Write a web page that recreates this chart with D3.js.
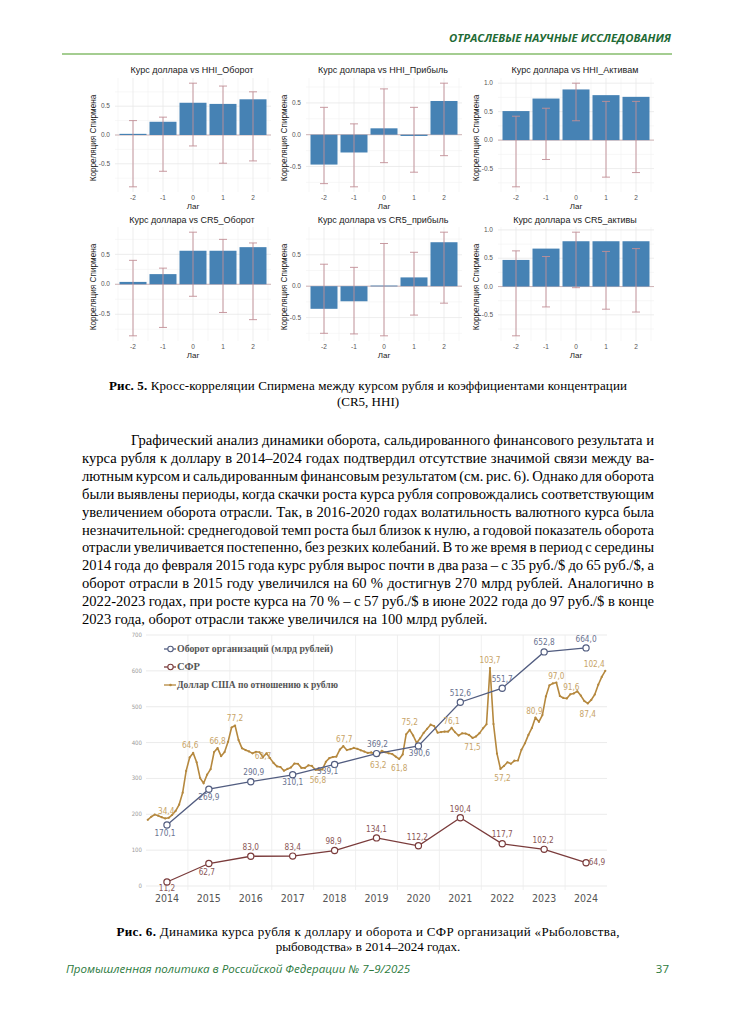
<!DOCTYPE html>
<html lang="ru"><head><meta charset="utf-8">
<script src="https://cdn.jsdelivr.net/npm/d3@7"></script>
<style>
html,body{margin:0;padding:0;background:#fff;}
svg{display:block;}
</style></head>
<body>
<svg id="page" width="736" height="1014"></svg>
<script>
// ---------------- DATA ----------------
const lags = [-2, -1, 0, 1, 2];
const panelTitles = [
  "Курс доллара vs HHI_Оборот", "Курс доллара vs HHI_Прибыль", "Курс доллара vs HHI_Активам",
  "Курс доллара vs CR5_Оборот", "Курс доллара vs CR5_прибыль", "Курс доллара vs CR5_активы"
];
const hhiTurnoverR  = [0.02, 0.23, 0.56, 0.54, 0.62];
const hhiTurnoverLo = [-0.90, -0.63, -0.19, -0.49, -0.45];
const hhiTurnoverHi = [0.25, 0.31, 0.90, 0.85, 0.75];
const hhiProfitR    = [-0.47, -0.28, 0.10, -0.02, 0.53];
const hhiProfitLo   = [-0.77, -0.82, -0.44, -0.59, -0.33];
const hhiProfitHi   = [0.43, 0.17, 0.72, 0.43, 0.81];
const hhiAssetsR    = [0.51, 0.73, 0.89, 0.79, 0.76];
const hhiAssetsLo   = [-0.82, -0.34, 0.34, -0.65, -0.57];
const hhiAssetsHi   = [0.42, 0.56, 1.00, 0.68, 0.68];
const cr5TurnoverR  = [0.04, 0.17, 0.56, 0.56, 0.62];
const cr5TurnoverLo = [-0.86, -0.72, -0.20, -0.47, -0.59];
const cr5TurnoverHi = [0.40, 0.27, 0.87, 0.75, 0.69];
const cr5ProfitR    = [-0.36, -0.24, 0.01, 0.14, 0.70];
const cr5ProfitLo   = [-0.75, -0.76, -0.79, -0.46, -0.27];
const cr5ProfitHi   = [0.35, 0.30, 0.68, 0.54, 0.86];
const cr5AssetsR    = [0.47, 0.67, 0.80, 0.80, 0.80];
const cr5AssetsLo   = [-0.87, -0.36, -0.02, -0.40, -0.45];
const cr5AssetsHi   = [0.63, 0.53, 0.96, 0.62, 0.67];
const corrTicks = [-1.0, -0.5, 0.0, 0.5, 1.0];

const years = [2014, 2015, 2016, 2017, 2018, 2019, 2020, 2021, 2022, 2023, 2024];
const turnover = [170.1, 269.9, 290.9, 310.1, 339.1, 369.2, 390.6, 512.6, 551.7, 652.8, 664.0];
const sfr = [11.2, 62.7, 83.0, 83.4, 98.9, 134.1, 112.2, 190.4, 117.7, 102.2, 64.9];
const usdRubMonthly = [
  33.8, 35.2, 36.2, 35.7, 35.0, 34.4, 34.7, 36.1, 37.9, 40.8, 46.3, 56.3,   // 2014
  62.5, 64.6, 60.3, 53.0, 50.6, 54.6, 57.1, 65.0, 66.8, 63.1, 65.0, 69.7,   // 2015
  76.3, 77.2, 70.5, 66.7, 65.9, 65.3, 64.4, 65.1, 64.9, 62.7, 64.4, 62.2,   // 2016
  60.0, 58.4, 58.1, 56.4, 57.2, 57.9, 59.7, 59.6, 57.7, 57.7, 58.9, 58.6,   // 2017
  56.8, 56.8, 57.0, 60.5, 62.2, 62.7, 62.9, 66.1, 67.7, 65.9, 66.3, 66.9,   // 2018
  66.5, 65.8, 65.2, 64.6, 64.8, 64.2, 63.2, 65.6, 64.9, 64.4, 64.1, 62.9,   // 2019
  61.8, 63.9, 73.2, 75.2, 72.6, 69.2, 71.3, 73.8, 75.7, 77.6, 77.0, 73.9,   // 2020
  74.2, 74.4, 74.4, 76.1, 74.1, 72.6, 73.6, 73.5, 72.9, 71.5, 72.2, 73.7,   // 2021
  75.9, 77.8, 103.7, 77.9, 64.3, 57.2, 58.6, 60.3, 59.6, 61.0, 61.1, 66.0,  // 2022
  69.0, 72.9, 76.1, 80.9, 78.9, 82.0, 90.6, 95.7, 96.6, 97.0, 90.8, 89.9,   // 2023
  89.7, 91.6, 92.0, 93.0, 91.0, 88.5, 87.4, 89.0, 91.5, 96.0, 99.6, 102.4   // 2024
];
const usdLabelIdx = [5, 13, 20, 25, 33, 49, 56, 66, 72, 75, 87, 93, 98, 101, 111, 117, 121, 126, 131];
const leftTicks = [0, 100, 200, 300, 400, 500, 600, 700];
const legendNames = ["Оборот организаций (млрд рублей)", "СФР", "Доллар США по отношению к рублю"];

// ---------------- LAYOUT / STYLE ----------------
const usdLabelOff = [[1,-7],[-3,-8],[0,-7],[0,-8],[0,-1],[-1,10],[1,-7],[0,9],[0,9],[0,-8],[0,-7],[0,9],[0,-8],[2,9],[-1,-7],[0,-7],[1,-7],[0,11],[-11,-7]];
const turnLabelOff = [[-2,8],[0,8],[3,-10],[0,7],[-7,7],[1,-10],[1,7],[0,-9],[0,-9],[0,-10],[0,-9]];
const sfrLabelOff = [[0,6],[-2,8],[0,-9],[0,-9],[-1,-10],[0,-9],[-1,-9],[0,-9],[0,-9.5],[-1,-9],[11,-1]];

const SERIF = "'Liberation Serif','Times New Roman',serif";
const SANS = "'Liberation Sans',Arial,sans-serif";
const NARROW = "'Liberation Sans Narrow','DejaVu Sans Condensed',sans-serif";
const GREEN = "#1f6b35";
const turnColor = "#525d80", sfrColor = "#7a3b3b", usdColor = "#b5883e";
const turnLab = "#6a7290", sfrLab = "#8a5656", usdLab = "#c8a468";

const svg = d3.select("#page");
svg.append("rect").attr("width", 736).attr("height", 1014).attr("fill", "#fff");

// ---------------- HEADER ----------------
svg.append("text").attr("x", 449).attr("y", 42)
  .attr("font-family", "'Open Sans','Noto Sans',sans-serif").attr("font-weight", 700)
  .attr("font-style", "italic").attr("font-size", 10.5).attr("fill", GREEN)
  .attr("textLength", 222).attr("lengthAdjust", "spacingAndGlyphs")
  .text("ОТРАСЛЕВЫЕ НАУЧНЫЕ ИССЛЕДОВАНИЯ");
svg.append("line").attr("x1", 62).attr("x2", 672).attr("y1", 54).attr("y2", 54)
  .attr("stroke", "#86bd6c").attr("stroke-width", 1.3);

// ---------------- SMALL PANELS ----------------
const panels = [
  {r: hhiTurnoverR, lo: hhiTurnoverLo, hi: hhiTurnoverHi},
  {r: hhiProfitR, lo: hhiProfitLo, hi: hhiProfitHi},
  {r: hhiAssetsR, lo: hhiAssetsLo, hi: hhiAssetsHi},
  {r: cr5TurnoverR, lo: cr5TurnoverLo, hi: cr5TurnoverHi},
  {r: cr5ProfitR, lo: cr5ProfitLo, hi: cr5ProfitHi},
  {r: cr5AssetsR, lo: cr5AssetsLo, hi: cr5AssetsHi}
];
const colX = [115, 306, 498], panelW = 156;
const rowTop = [78, 227], rowBottom = [192, 341], titleY = [73, 223];

panels.forEach((p, k) => {
  const col = k % 3, row = Math.floor(k / 3);
  const x0 = colX[col], top = rowTop[row], bottom = rowBottom[row];
  const g = svg.append("g");
  const all = [0, ...p.r, ...p.lo, ...p.hi];
  const mn = d3.min(all), mx = d3.max(all), pad = (mx - mn) * 0.05;
  const y = d3.scaleLinear().domain([mn - pad, mx + pad]).range([bottom, top]);
  const x = d3.scaleLinear().domain([-2.6, 2.6]).range([x0, x0 + panelW]);
  const [d0, d1] = y.domain();
  const minorY = d3.range(-1.25, 1.3, 0.5).filter(v => v > d0 && v < d1);
  g.selectAll(".gmy").data(minorY).join("line")
    .attr("x1", x0).attr("x2", x0 + panelW).attr("y1", d => y(d)).attr("y2", d => y(d))
    .attr("stroke", "#f2f2f2").attr("stroke-width", 0.6);
  const minorX = [-2.5, -1.5, -0.5, 0.5, 1.5, 2.5];
  g.selectAll(".gmx").data(minorX).join("line")
    .attr("x1", d => x(d)).attr("x2", d => x(d)).attr("y1", top).attr("y2", bottom)
    .attr("stroke", "#f2f2f2").attr("stroke-width", 0.6);
  const ticks = corrTicks.filter(v => v > d0 && v < d1);
  g.selectAll(".gy").data(ticks).join("line")
    .attr("x1", x0).attr("x2", x0 + panelW).attr("y1", d => y(d)).attr("y2", d => y(d))
    .attr("stroke", "#e8e8e8").attr("stroke-width", 0.8);
  g.selectAll(".gx").data(lags).join("line")
    .attr("x1", d => x(d)).attr("x2", d => x(d)).attr("y1", top).attr("y2", bottom)
    .attr("stroke", "#e8e8e8").attr("stroke-width", 0.8);
  g.append("line").attr("x1", x0).attr("x2", x0 + panelW).attr("y1", y(0)).attr("y2", y(0))
    .attr("stroke", "#c9a7aa").attr("stroke-width", 0.8);
  const bw = x(0.45) - x(-0.45);
  g.selectAll(".bar").data(lags).join("rect")
    .attr("x", d => x(d) - bw / 2).attr("width", bw)
    .attr("y", (d, i) => Math.min(y(p.r[i]), y(0)))
    .attr("height", (d, i) => Math.max(Math.abs(y(p.r[i]) - y(0)), 0.8))
    .attr("fill", "#4682b4");
  const eb = g.selectAll(".eb").data(lags).join("g").attr("stroke", "#c28f96").attr("stroke-width", 0.9).attr("fill", "none");
  eb.append("line").attr("x1", d => x(d)).attr("x2", d => x(d))
    .attr("y1", (d, i) => y(p.lo[i])).attr("y2", (d, i) => y(p.hi[i]));
  eb.append("line").attr("x1", d => x(d) - 4).attr("x2", d => x(d) + 4)
    .attr("y1", (d, i) => y(p.lo[i])).attr("y2", (d, i) => y(p.lo[i]));
  eb.append("line").attr("x1", d => x(d) - 4).attr("x2", d => x(d) + 4)
    .attr("y1", (d, i) => y(p.hi[i])).attr("y2", (d, i) => y(p.hi[i]));
  g.selectAll(".yl").data(ticks).join("text")
    .attr("x", x0 - 5).attr("y", d => y(d) + 2.2).attr("text-anchor", "end")
    .attr("font-family", SANS).attr("font-size", 6.5).attr("fill", "#555")
    .text(d => d3.format(".1f")(d).replace("−", "-"));
  g.selectAll(".xl").data(lags).join("text")
    .attr("x", d => x(d)).attr("y", bottom + 8.2).attr("text-anchor", "middle")
    .attr("font-family", SANS).attr("font-size", 6.5).attr("fill", "#555")
    .text(d => String(d));
  g.append("text").attr("x", x0 + panelW / 2).attr("y", bottom + 17).attr("text-anchor", "middle")
    .attr("font-family", SANS).attr("font-size", 8).attr("fill", "#222").text("Лаг");
  g.append("text").attr("transform", `translate(${x0 - 19.5},${(top + bottom) / 2 + 3}) rotate(-90)`)
    .attr("text-anchor", "middle").attr("font-family", SANS).attr("font-size", 8.2).attr("fill", "#222")
    .text("Корреляция Спирмена");
  g.append("text").attr("x", x0 + panelW / 2 - 1).attr("y", titleY[row]).attr("text-anchor", "middle")
    .attr("font-family", SANS).attr("font-size", 9).attr("fill", "#1a1a1a").text(panelTitles[k]);
});

// ---------------- CAPTION 5 ----------------
function caption(y, bold, rest, width) {
  const t = svg.append("text").attr("x", 368).attr("y", y).attr("text-anchor", "middle")
    .attr("font-family", SERIF).attr("font-size", 13).attr("fill", "#000");
  if (bold) t.append("tspan").attr("font-weight", 700).text(bold);
  t.append("tspan").text(rest);
  if (width) t.attr("textLength", width).attr("lengthAdjust", "spacing");
  return t;
}
caption(390, "Рис. 5.", " Кросс-корреляции Спирмена между курсом рубля и коэффициентами концентрации", 518);
caption(406, null, "(CR5, HHI)");

// ---------------- BODY TEXT ----------------
const bodyLines = [
  "Графический анализ динамики оборота, сальдированного финансового результата и",
  "курса рубля к доллару в 2014–2024 годах подтвердил отсутствие значимой связи между ва-",
  "лютным курсом и сальдированным финансовым результатом (см. рис. 6). Однако для оборота",
  "были выявлены периоды, когда скачки роста курса рубля сопровождались соответствующим",
  "увеличением оборота отрасли. Так, в 2016-2020 годах волатильность валютного курса была",
  "незначительной: среднегодовой темп роста был близок к нулю, а годовой показатель оборота",
  "отрасли увеличивается постепенно, без резких колебаний. В то же время в период с середины",
  "2014 года до февраля 2015 года курс рубля вырос почти в два раза – с 35 руб./$ до 65 руб./$, а",
  "оборот отрасли в 2015 году увеличился на 60 % достигнув 270 млрд рублей. Аналогично в",
  "2022-2023 годах, при росте курса на 70 % – с 57 руб./$ в июне 2022 года до 97 руб./$ в конце",
  "2023 года, оборот отрасли также увеличился на 100 млрд рублей."
];
bodyLines.forEach((s, i) => {
  const x = i === 0 ? 131 : 82;
  const t = svg.append("text").attr("x", x).attr("y", 445 + i * 17.9)
    .attr("font-family", SERIF).attr("font-size", 14.6).attr("fill", "#000").text(s);
  if (i < bodyLines.length - 1) {
    const w = t.node().getComputedTextLength();
    const n = (s.match(/ /g) || []).length;
    t.attr("word-spacing", ((654 - x) - w) / n);
  }
});

// ---------------- LINE CHART ----------------
const xB = d3.scaleBand().domain(years).range([146, 607]);
const yL = d3.scaleLinear().domain([0, 700]).range([886, 635]);
const yR = d3.scaleLinear().domain([3.3, 118.9]).range([886, 635]);
const monthX = i => xB(years[Math.floor(i / 12)]) + ((i % 12) + 0.5) / 12 * xB.bandwidth();
const yc = d => xB(d) + xB.bandwidth() / 2;
const lc = svg.append("g");

lc.selectAll(".hg").data(leftTicks).join("line")
  .attr("x1", 146).attr("x2", 607).attr("y1", d => yL(d)).attr("y2", d => yL(d))
  .attr("stroke", "#e6e6e6").attr("stroke-width", 0.8);
lc.selectAll(".vg").data(years.slice(1)).join("line")
  .attr("x1", d => xB(d)).attr("x2", d => xB(d)).attr("y1", yL(700)).attr("y2", yL(0) + 4)
  .attr("stroke", "#ececec").attr("stroke-width", 0.8);
lc.selectAll(".yt").data(leftTicks).join("text")
  .attr("x", 142).attr("y", d => yL(d) + 2).attr("text-anchor", "end")
  .attr("font-family", NARROW).attr("font-size", 6).attr("fill", "#9a9a9a").text(d => d);
lc.selectAll(".xt").data(years).join("text")
  .attr("x", d => yc(d)).attr("y", 902).attr("text-anchor", "middle")
  .attr("font-family", NARROW).attr("font-size", 10.5).attr("fill", "#555").text(d => d);

const usdLine = d3.line().x((d, i) => monthX(i)).y(d => yR(d));
lc.append("path").datum(usdRubMonthly).attr("d", usdLine).attr("fill", "none")
  .attr("stroke", usdColor).attr("stroke-width", 1.6).attr("stroke-linejoin", "round");
lc.selectAll(".ud").data(usdRubMonthly).join("circle")
  .attr("cx", (d, i) => monthX(i)).attr("cy", d => yR(d)).attr("r", 1.1).attr("fill", usdColor);

const yrLine = d3.line().x((d, i) => yc(years[i])).y(d => yL(d));
[[turnover, turnColor], [sfr, sfrColor]].forEach(([arr, c]) => {
  lc.append("path").datum(arr).attr("d", yrLine).attr("fill", "none").attr("stroke", c).attr("stroke-width", 1.3);
  lc.selectAll(null).data(arr).join("circle")
    .attr("cx", (d, i) => yc(years[i])).attr("cy", d => yL(d)).attr("r", 3.1)
    .attr("fill", "#fff").attr("stroke", c).attr("stroke-width", 1.2);
});

const fmt = v => d3.format(".1f")(v).replace(".", ",");
lc.selectAll(".tl").data(turnover).join("text")
  .attr("x", (d, i) => yc(years[i]) + turnLabelOff[i][0]).attr("y", (d, i) => yL(d) + turnLabelOff[i][1] + 3)
  .attr("text-anchor", "middle").attr("font-family", NARROW).attr("font-size", 8.2).attr("fill", turnLab).text(fmt);
lc.selectAll(".sl").data(sfr).join("text")
  .attr("x", (d, i) => yc(years[i]) + sfrLabelOff[i][0]).attr("y", (d, i) => yL(d) + sfrLabelOff[i][1] + 3)
  .attr("text-anchor", "middle").attr("font-family", NARROW).attr("font-size", 8.2).attr("fill", sfrLab).text(fmt);
lc.selectAll(".ul").data(usdLabelIdx).join("text")
  .attr("x", (d, j) => monthX(d) + usdLabelOff[j][0]).attr("y", (d, j) => yR(usdRubMonthly[d]) + usdLabelOff[j][1] + 3)
  .attr("text-anchor", "middle").attr("font-family", NARROW).attr("font-size", 8.2).attr("fill", usdLab)
  .text(d => fmt(usdRubMonthly[d]));

const legColors = [turnColor, sfrColor, usdColor];
const legW = [156, 23, 161];
legendNames.forEach((name, i) => {
  const ly = 649 + i * 18;
  lc.append("line").attr("x1", 164).attr("x2", 176).attr("y1", ly).attr("y2", ly).attr("stroke", legColors[i]).attr("stroke-width", 1.3);
  if (i < 2) lc.append("circle").attr("cx", 170.5).attr("cy", ly).attr("r", 2.7).attr("fill", "#fff").attr("stroke", legColors[i]).attr("stroke-width", 1.1);
  else lc.append("circle").attr("cx", 170.5).attr("cy", ly).attr("r", 1.3).attr("fill", legColors[i]);
  lc.append("text").attr("x", 177).attr("y", ly + 3.3).attr("font-family", SERIF).attr("font-weight", 700)
    .attr("font-size", 9.8).attr("fill", "#555").attr("textLength", legW[i]).attr("lengthAdjust", "spacingAndGlyphs").text(name);
});

// ---------------- CAPTION 6 ----------------
caption(936, "Рис. 6.", " Динамика курса рубля к доллару и оборота и СФР организаций «Рыболовства,", 503);
caption(951, null, "рыбоводства» в 2014–2024 годах.");

// ---------------- FOOTER ----------------
svg.append("text").attr("x", 66).attr("y", 973).attr("font-family", "'Open Sans','Noto Sans',sans-serif")
  .attr("font-style", "italic").attr("font-size", 11).attr("fill", "#2c7a3d")
  .attr("textLength", 344).attr("lengthAdjust", "spacingAndGlyphs")
  .text("Промышленная политика в Российской Федерации № 7–9/2025");
svg.append("text").attr("x", 669).attr("y", 973).attr("text-anchor", "end").attr("font-family", "'Open Sans','Noto Sans',sans-serif")
  .attr("font-size", 11.5).attr("fill", "#2c7a3d").text("37");
</script>
</body></html>
